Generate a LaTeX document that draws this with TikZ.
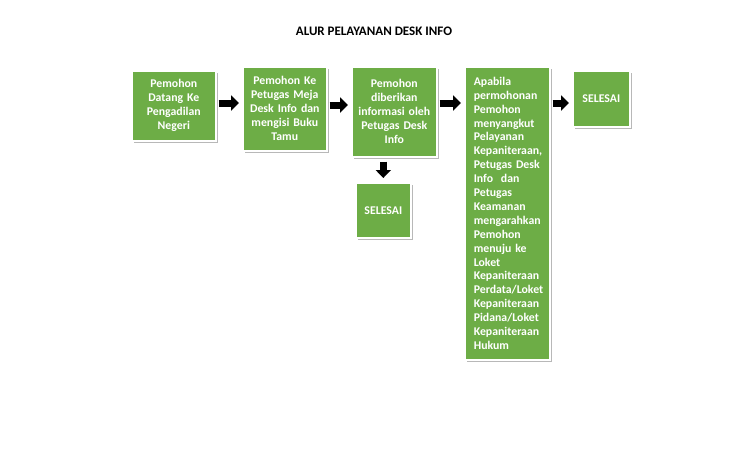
\documentclass[tikz,border=0pt]{standalone}
\usepackage{fontspec}
\setmainfont{Carlito}
\usetikzlibrary{calc,arrows.meta,shadows}
\definecolor{boxgreen}{HTML}{6DAD46}
\tikzset{
  gbox/.style={draw=white, line width=1.6pt, fill=boxgreen, text=white,
    font=\bfseries\fontsize{11.8}{14}\selectfont, inner sep=1pt,
    drop shadow={shadow xshift=2pt, shadow yshift=-2pt, fill=black!35, opacity=0.8},
    anchor=north west, align=center},
  barrow/.style={line width=7pt, draw=black, -{Triangle[length=8pt,width=15pt]},
    shorten <=2pt, shorten >=3pt},
}
\begin{document}
\begin{tikzpicture}[x=1pt,y=-1pt]
\useasboundingbox (0,0) rectangle (750,450);
\node[font=\bfseries\fontsize{13}{15}\selectfont] (title) at (374,31) {ALUR PELAYANAN DESK INFO};
\node[gbox, minimum width=84pt, minimum height=70pt, text width=82pt] (b1) at (131,70)
  {Pemohon\\Datang Ke\\Pengadilan\\Negeri};
\node[gbox, minimum width=84pt, minimum height=84pt, text width=82pt] (b2) at (242,66)
  {Pemohon Ke\\Petugas Meja\\Desk Info dan\\mengisi Buku\\Tamu};
\node[gbox, minimum width=85pt, minimum height=90pt, text width=83pt] (b3) at (351,66)
  {Pemohon\\diberikan\\informasi oleh\\Petugas Desk\\Info};
\node[gbox, minimum width=55pt, minimum height=55pt, text width=53pt] (s2) at (355,182)
  {SELESAI};
\node[gbox, minimum width=85pt, minimum height=293pt, text width=67pt, inner xsep=9pt,
  inner ysep=1pt, align=left, font=\bfseries\fontsize{11.8}{13.9}\selectfont] (b4) at (464,66)
  {Apabila\\permohonan\\Pemohon\\menyangkut\\Pelayanan\\Kepaniteraan,\\Petugas Desk\\Info~~dan\\Petugas\\Keamanan\\mengarahkan\\Pemohon\\menuju ke\\Loket\\Kepaniteraan\\Perdata/Loket\\Kepaniteraan\\Pidana/Loket\\Kepaniteraan\\Hukum};
\node[gbox, minimum width=57pt, minimum height=56pt, text width=55pt] (s1) at (572,70)
  {SELESAI};
\coordinate (rowA) at (0,103);
\coordinate (rowB) at (0,105);
\draw[barrow] (b1.east |- rowA) -- (b2.west |- rowA);
\draw[barrow] (b2.east |- rowB) -- (b3.west |- rowB);
\draw[barrow] (b3.east |- rowA) -- (b4.west |- rowA);
\draw[barrow] (b4.east |- rowA) -- (s1.west |- rowA);
\draw[barrow, shorten <=4pt, shorten >=4pt] (s2.north |- b3.south) -- (s2.north);
\end{tikzpicture}
\end{document}
